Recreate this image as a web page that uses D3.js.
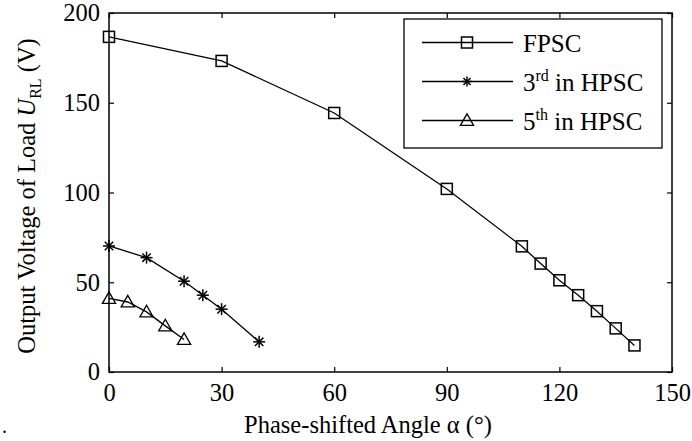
<!DOCTYPE html>
<html>
<head>
<meta charset="utf-8">
<script src="https://cdn.jsdelivr.net/npm/d3@7"></script>
<style>
  body { margin: 0; background: #fff; }
  svg text { font-family: "Liberation Serif", "Times New Roman", serif; }
</style>
</head>
<body>
<svg width="692" height="441"></svg>
<script>
const fpscX = [0, 30, 60, 90, 110, 115, 120, 125, 130, 135, 140];
const fpscY = [186.7, 173.3, 144.3, 102, 70, 60.4, 51.1, 42.8, 33.9, 24.3, 14.8];
const h3X = [0, 10, 20, 25, 30, 40];
const h3Y = [70.2, 63.7, 50.6, 42.8, 35, 16.8];
const h5X = [0, 5, 10, 15, 20];
const h5Y = [41, 39, 33.5, 25.7, 18.1];
const xTicks = [0, 30, 60, 90, 120, 150];
const yTicks = [0, 50, 100, 150, 200];

const svg = d3.select("svg");
const mL = 109, mR = 672, mT = 13, mB = 372;

const x = d3.scaleLinear().domain([0, 150]).range([mL, mR]);
const y = d3.scaleLinear().domain([0, 200]).range([mB, mT]);

const fs = 24.5;

// axes with inward ticks on all sides
svg.append("g").attr("transform", `translate(0,${mB})`)
  .call(d3.axisBottom(x).tickValues(xTicks).tickSize(-5).tickPadding(12).tickFormat(d3.format("d")));
svg.append("g").attr("transform", `translate(0,${mT})`)
  .call(d3.axisTop(x).tickValues(xTicks).tickSize(-5).tickFormat(""));
svg.append("g").attr("transform", `translate(${mL},0)`)
  .call(d3.axisLeft(y).tickValues(yTicks).tickSize(-5).tickPadding(9).tickFormat(d3.format("d")));
svg.append("g").attr("transform", `translate(${mR},0)`)
  .call(d3.axisRight(y).tickValues(yTicks).tickSize(-5).tickFormat(""));

svg.selectAll(".domain").remove();
svg.selectAll(".tick line").attr("stroke", "#000").attr("stroke-width", 1.2);
svg.selectAll(".tick text").attr("font-size", fs).attr("fill", "#000")
  .attr("font-family", "Liberation Serif, serif");

svg.append("rect")
  .attr("x", mL).attr("y", mT)
  .attr("width", mR - mL).attr("height", mB - mT)
  .attr("fill", "none").attr("stroke", "#000").attr("stroke-width", 1.5);

const line = d3.line().x(d => x(d[0])).y(d => y(d[1]));

const series = [
  { xs: fpscX, ys: fpscY, marker: "square" },
  { xs: h3X, ys: h3Y, marker: "star" },
  { xs: h5X, ys: h5Y, marker: "triangle" },
];

function drawMarker(g, type, cx, cy, s) {
  if (type === "square") {
    g.append("rect").attr("x", cx - s / 2).attr("y", cy - s / 2)
      .attr("width", s).attr("height", s)
      .attr("fill", "none").attr("stroke", "#000").attr("stroke-width", 1.5);
  } else if (type === "triangle") {
    const r = s * 0.6;
    g.append("path")
      .attr("d", `M${cx},${cy - r} L${cx + r},${cy + r * 0.75} L${cx - r},${cy + r * 0.75} Z`)
      .attr("fill", "none").attr("stroke", "#000").attr("stroke-width", 1.3);
  } else {
    const r = s / 2;
    for (let k = 0; k < 4; k++) {
      const a = k * Math.PI / 4;
      g.append("line")
        .attr("x1", cx - r * Math.cos(a)).attr("y1", cy - r * Math.sin(a))
        .attr("x2", cx + r * Math.cos(a)).attr("y2", cy + r * Math.sin(a))
        .attr("stroke", "#000").attr("stroke-width", 1.5);
    }
  }
}

series.forEach(s => {
  const pts = s.xs.map((v, i) => [v, s.ys[i]]);
  svg.append("path").datum(pts)
    .attr("d", line)
    .attr("fill", "none").attr("stroke", "#000").attr("stroke-width", 1.3);
  const g = svg.append("g");
  pts.forEach(p => drawMarker(g, s.marker, x(p[0]), y(p[1]), s.marker === "star" ? 12 : 11));
});

// legend
const lg = svg.append("g");
lg.append("rect").attr("x", 404).attr("y", 19).attr("width", 258).attr("height", 129)
  .attr("fill", "#fff").attr("stroke", "#000").attr("stroke-width", 1.3);
const legendRows = [
  { marker: "square", main: "FPSC" },
  { marker: "star", main: "3", sup: "rd", rest: " in HPSC" },
  { marker: "triangle", main: "5", sup: "th", rest: " in HPSC" },
];
legendRows.forEach((r, i) => {
  const ly = 42.5 + i * 39;
  lg.append("line").attr("x1", 422).attr("x2", 513).attr("y1", ly).attr("y2", ly)
    .attr("stroke", "#000").attr("stroke-width", 1.3);
  drawMarker(lg, r.marker, 467, ly, r.marker === "star" ? 10 : 11);
  const t = lg.append("text").attr("x", 523).attr("y", ly + 9).attr("font-size", 25).attr("fill", "#000");
  t.append("tspan").text(r.main);
  if (r.sup) {
    t.append("tspan").attr("dy", -10).attr("font-size", 16).text(r.sup);
    t.append("tspan").attr("dy", 10).text(r.rest);
  }
});

// axis titles
svg.append("text").attr("x", 368).attr("y", 433).attr("text-anchor", "middle")
  .attr("font-size", fs).attr("fill", "#000").text("Phase-shifted Angle α (°)");

const yl = svg.append("text")
  .attr("transform", "translate(35,196) rotate(-90)")
  .attr("text-anchor", "middle").attr("font-size", fs).attr("fill", "#000");
yl.append("tspan").text("Output Voltage of Load ");
yl.append("tspan").attr("font-style", "italic").text("U");
yl.append("tspan").attr("dy", 6).attr("font-size", 16).text("RL");
yl.append("tspan").attr("dy", -6).text(" (V)");

svg.append("text").attr("x", 2).attr("y", 433).attr("font-size", 20).attr("fill", "#000").text(".");
</script>
</body>
</html>
